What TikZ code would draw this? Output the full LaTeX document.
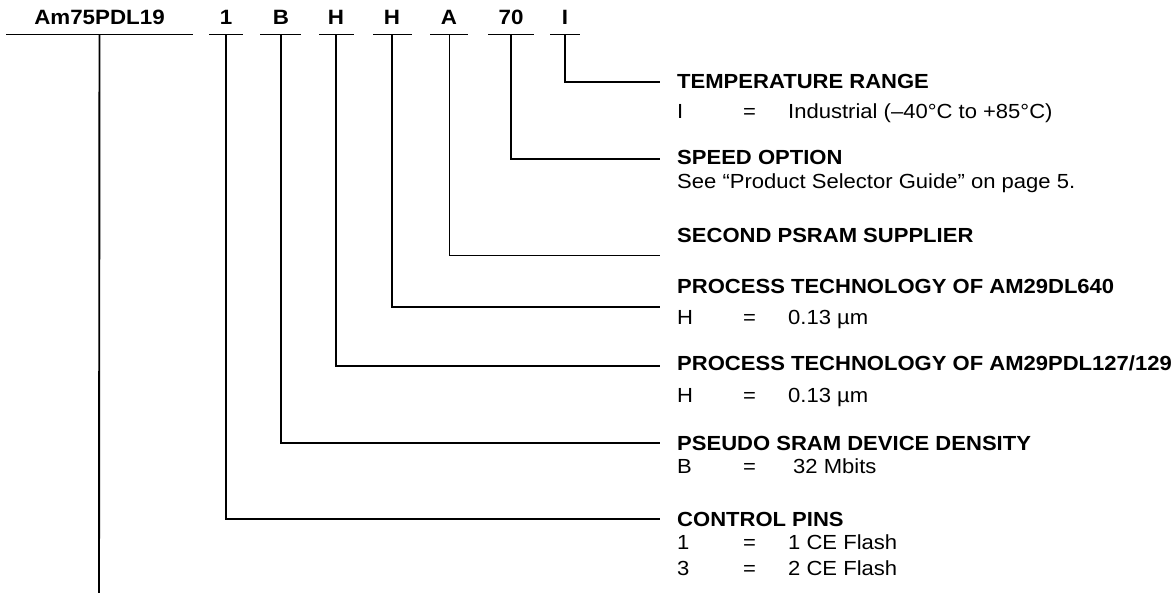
\documentclass[tikz,border=0pt]{standalone}
\usepackage{fontspec}
\setmainfont{Liberation Sans}[FakeStretch=1.08]
\begin{document}
\begin{tikzpicture}[x=1pt,y=-1pt,
  ln/.style={line width=1.9pt},
  lnthin/.style={line width=1.0pt},
  code/.style={font=\fontsize{20.7}{24}\selectfont\bfseries, inner sep=0pt, anchor=base},
  head/.style={font=\fontsize{20.4}{24}\selectfont\bfseries, inner sep=0pt, anchor=base west},
  body/.style={font=\fontsize{20.4}{24}\selectfont, inner sep=0pt, anchor=base west}]
\useasboundingbox (0,0) rectangle (1172,593);

% part-number codes
\node[code] (cAm) at (99.5,25) {Am75PDL19};
\node[code] (c1)  at (226,25) {1};
\node[code] (cB)  at (281,25) {B};
\node[code] (cH1) at (336,25) {H};
\node[code] (cH2) at (392,25) {H};
\node[code] (cA)  at (449,25) {A};
\node[code] (c70) at (511,25) {70};
\node[code] (cI)  at (565,25) {I};

% underlines
\draw[ln] (6,34.5) -- (193,34.5);
\draw[ln] (209,34.5) -- (243,34.5);
\draw[ln] (260,34.5) -- (301,34.5);
\draw[ln] (319,34.5) -- (354,34.5);
\draw[ln] (373,34.5) -- (412,34.5);
\draw[lnthin] (430,34.5) -- (468,34.5);
\draw[ln] (488,34.5) -- (534,34.5);
\draw[ln] (550,34.5) -- (580,34.5);

% headings
\node[head] (hT)  at (677,88.3)  {TEMPERATURE RANGE};
\node[head] (hS)  at (677,165)   {SPEED OPTION};
\node[head] (hP)  at (677,242.5) {SECOND PSRAM SUPPLIER};
\node[head] (hD)  at (677,294)   {PROCESS TECHNOLOGY OF AM29DL640};
\node[head] (hPD) at (677,370.7) {PROCESS TECHNOLOGY OF AM29PDL127/129};
\node[head] (hB)  at (677,450)   {PSEUDO SRAM DEVICE DENSITY};
\node[head] (hC)  at (677,526)   {CONTROL PINS};

% connector end points
\coordinate (eT)  at (660,82);
\coordinate (eS)  at (660,159);
\coordinate (eP)  at (660,256);
\coordinate (eD)  at (660,306.7);
\coordinate (ePD) at (660,365.7);
\coordinate (eB)  at (660,443);
\coordinate (eC)  at (660,519);
\coordinate (eAm) at (99,593);

% connectors
\draw[ln] (cI.south |- 0,34.5)  |- (eT);
\draw[ln] (c70.south |- 0,34.5) |- (eS);
\draw[lnthin] (cA.south |- 0,34.5) |- (eP);
\draw[ln] (cH2.south |- 0,34.5) |- (eD);
\draw[ln] (cH1.south |- 0,34.5) |- (ePD);
\draw[ln] (cB.south |- 0,34.5)  |- (eB);
\draw[ln] (c1.south |- 0,34.5)  |- (eC);
\draw[ln] (cAm.south |- 0,34.5) -- (eAm);

% value rows
\node[body] (vI1) at (677,119)   {I};
\node[body] (vI2) at (743,119)   {=};
\node[body] (vI3) at (788,119)   {Industrial (–40°C to +85°C)};
\node[body] (vS)  at (677,188.3) {See “Product Selector Guide” on page 5.};
\node[body] (vD1) at (677,325)   {H};
\node[body] (vD2) at (743,325)   {=};
\node[body] (vD3) at (788,325)   {0.13 µm};
\node[body] (vP1) at (677,402.3) {H};
\node[body] (vP2) at (743,402.3) {=};
\node[body] (vP3) at (788,402.3) {0.13 µm};
\node[body] (vB1) at (677,473.3) {B};
\node[body] (vB2) at (743,473.3) {=};
\node[body] (vB3) at (793,473.3) {32 Mbits};
\node[body] (vC1) at (677,549.3) {1};
\node[body] (vC2) at (743,549.3) {=};
\node[body] (vC3) at (788,549.3) {1 CE Flash};
\node[body] (vC4) at (677,575.7) {3};
\node[body] (vC5) at (743,575.7) {=};
\node[body] (vC6) at (788,575.7) {2 CE Flash};
\end{tikzpicture}
\end{document}
